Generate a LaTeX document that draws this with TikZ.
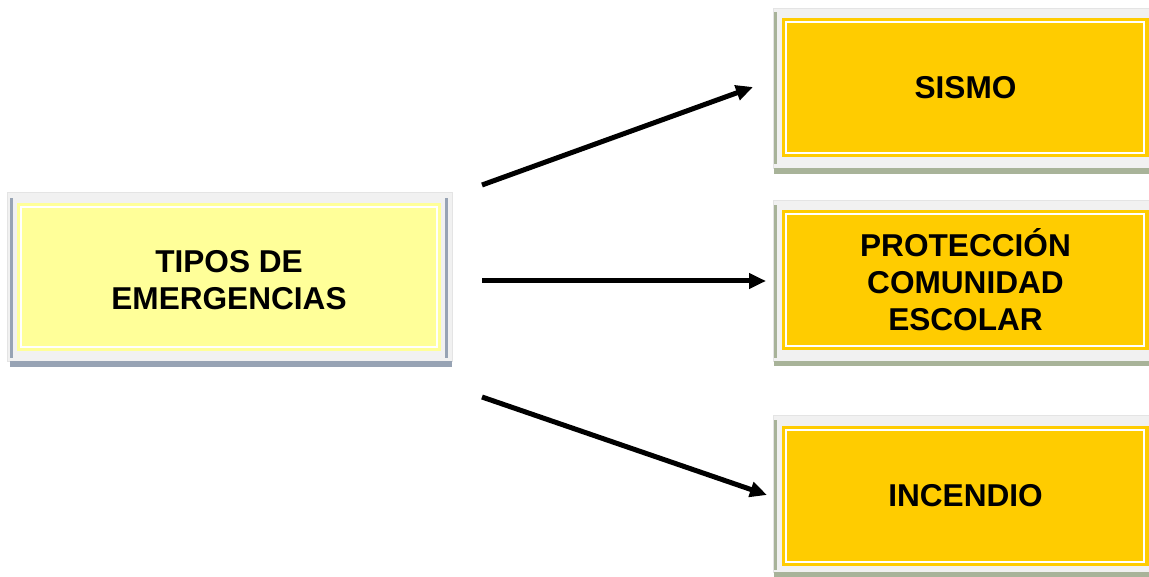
\documentclass[tikz,border=0pt]{standalone}
\usepackage{fontspec}
\setmainfont{Liberation Sans}
\usetikzlibrary{arrows.meta}
\definecolor{paleyellow}{HTML}{FFFF99}
\definecolor{gold}{HTML}{FFCC00}
\definecolor{framegray}{HTML}{F1F1F1}
\definecolor{frameedge}{HTML}{E4E4E4}
\definecolor{blueshadow}{HTML}{97A3B4}
\definecolor{greenshadow}{HTML}{A8B399}
\tikzset{
  emgtext/.style={font=\fontsize{31.6}{37}\selectfont\bfseries, align=center, text=black},
  framebox/.style={fill=framegray, draw=frameedge, line width=0.8pt},
  innerline/.style={draw=white, line width=1.6pt},
  arrowline/.style={line width=5pt, -{Triangle[length=17pt,width=15pt]}},
}
\begin{document}
\begin{tikzpicture}[x=1pt,y=-1pt]
\useasboundingbox (0,0) rectangle (1149,577);
\clip (0,0) rectangle (1149,577);
% ---------- left box ----------
\draw[framebox] (7,192) rectangle (452,361);
\fill[blueshadow] (10,361) rectangle (452,367);
\fill[blueshadow] (10,198) rectangle (12.5,358);
\fill[blueshadow] (445,198) rectangle (448,358);
\fill[paleyellow] (17,203) rectangle (441,351);
\draw[innerline] (21,207) rectangle (437,347);
\node[emgtext] (tipos) at (229,280) {TIPOS DE\\EMERGENCIAS};
% ---------- right boxes ----------
% SISMO
\draw[framebox] (773,8) rectangle (1160,168);
\fill[greenshadow] (774,168) rectangle (1160,174);
\fill[greenshadow] (774,12) rectangle (776.5,164);
\fill[gold] (782,18) rectangle (1149,157);
\draw[innerline] (786,22) rectangle (1144,153);
\node[emgtext] (sismo) at (965.5,88) {SISMO};
% PROTECCION
\draw[framebox] (773,200) rectangle (1160,361);
\fill[greenshadow] (774,361) rectangle (1160,366);
\fill[greenshadow] (774,205) rectangle (776.5,358);
\fill[gold] (782,210) rectangle (1149,350);
\draw[innerline] (786,214) rectangle (1144,346);
\node[emgtext] (prot) at (965.5,280) {PROTECCIÓN\\COMUNIDAD\\ESCOLAR};
% INCENDIO
\draw[framebox] (773,415) rectangle (1160,572);
\fill[greenshadow] (774,572) rectangle (1160,578);
\fill[greenshadow] (774,420) rectangle (776.5,570);
\fill[gold] (782,426) rectangle (1149,566);
\draw[innerline] (786,430) rectangle (1144,562);
\node[emgtext] (incendio) at (965.5,496) {INCENDIO};
% ---------- arrows ----------
\coordinate (s1) at (482,185);
\coordinate (e1) at (753,87);
\coordinate (s2) at (482,281);
\coordinate (e2) at (766,281);
\coordinate (s3) at (482,397);
\coordinate (e3) at (767,495);
\draw[arrowline] (s1) -- (e1);
\draw[arrowline] (s2) -- (e2);
\draw[arrowline] (s3) -- (e3);
\end{tikzpicture}
\end{document}
